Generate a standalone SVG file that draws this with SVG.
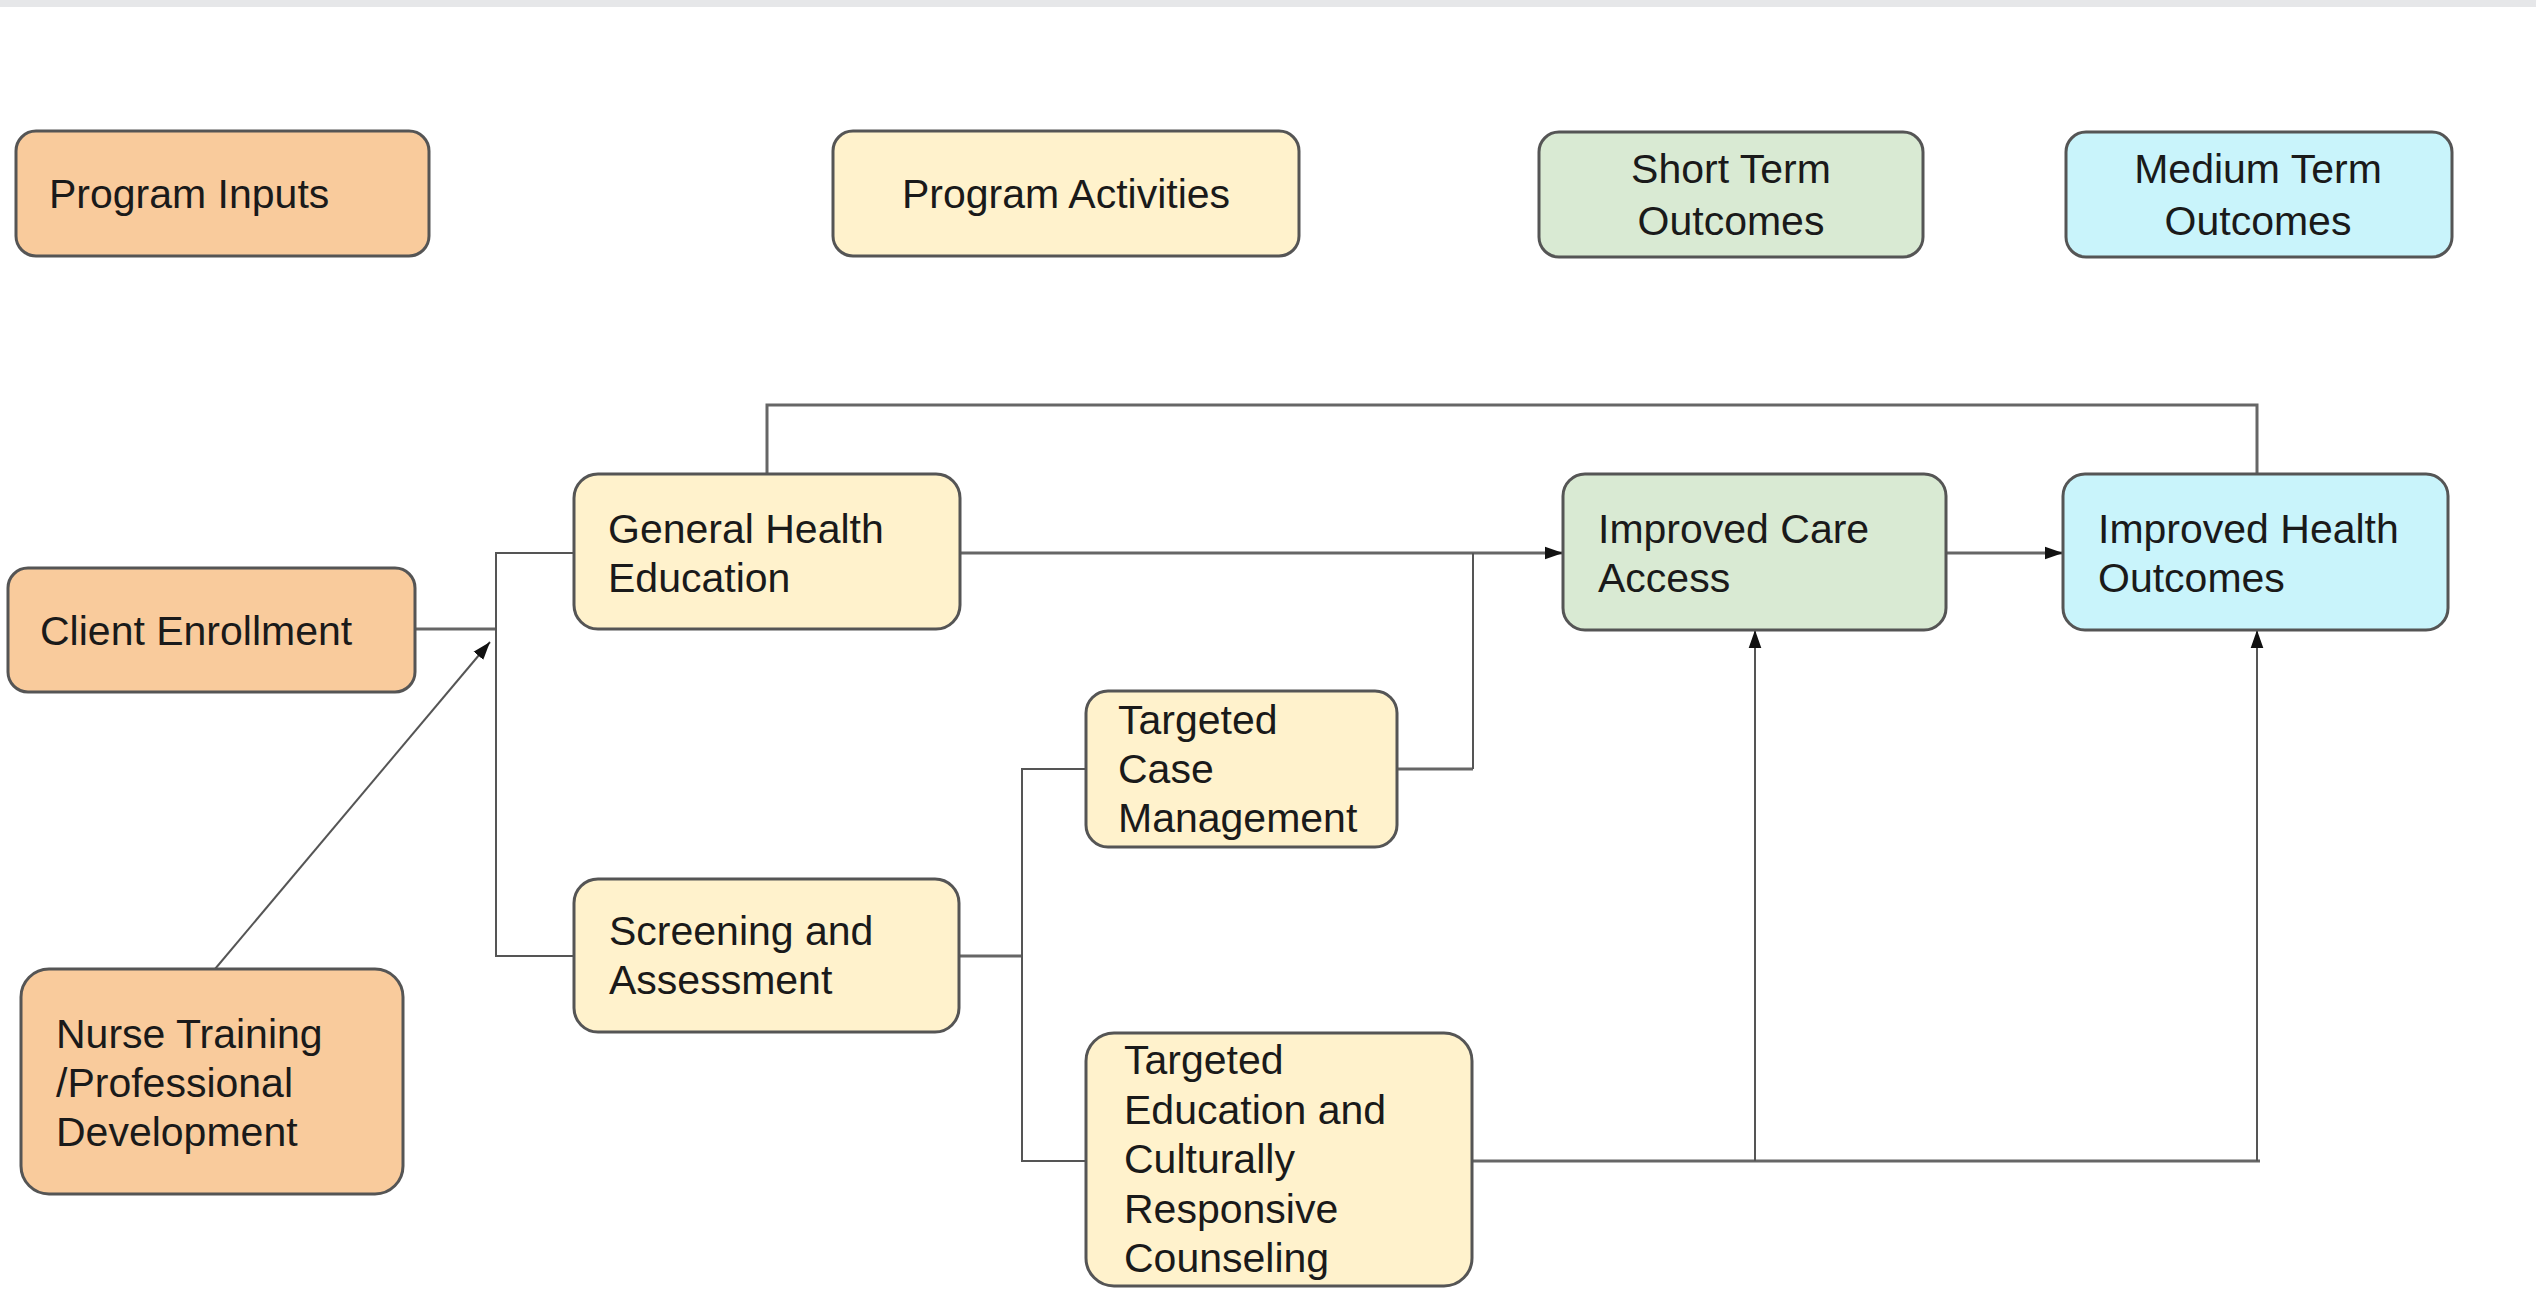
<svg xmlns="http://www.w3.org/2000/svg" width="2536" height="1296" viewBox="0 0 2536 1296">
<defs>
<style>
.box{stroke:#555;stroke-width:3}
.in{fill:#f9cb9c}
.act{fill:#fff2cc}
.st{fill:#d9ead3}
.mt{fill:#c9f4fb}
text{font-family:"Liberation Sans",Arial,sans-serif;font-size:41px;fill:#1a1a1a}
.c{text-anchor:middle}
.ln{fill:none;stroke:#666;stroke-width:3}
.thin{fill:none;stroke:#555;stroke-width:2}
</style>
<marker id="ah" viewBox="0 0 10 10" refX="10" refY="5" markerWidth="7" markerHeight="7" orient="auto" markerUnits="userSpaceOnUse">
<path d="M0,0 L10,5 L0,10 z" fill="#111"/>
</marker>
<marker id="ahs" viewBox="0 0 10 10" refX="10" refY="5" markerWidth="18" markerHeight="18" orient="auto" markerUnits="userSpaceOnUse">
<path d="M0,1.5 L10,5 L0,8.5 z" fill="#111"/>
</marker>
</defs>
<rect x="0" y="0" width="2536" height="1296" fill="#ffffff"/>
<rect x="0" y="0" width="2536" height="7" fill="#e6e7e9"/>

<g id="connectors">
<!-- top loop GHE to IHO -->
<polyline class="ln" points="767,474 767,405 2257,405 2257,474"/>
<!-- Client enrollment to junction -->
<polyline class="ln" points="415,629 496,629"/>
<polyline class="thin" points="574,553 496,553 496,956 574,956"/>
<!-- Nurse training diagonal -->
<line class="thin" x1="215" y1="969" x2="490" y2="642" marker-end="url(#ahs)"/>
<!-- GHE to ICA -->
<line class="ln" x1="960" y1="553" x2="1563" y2="553" marker-end="url(#ahs)"/>
<!-- ICA to IHO -->
<line class="ln" x1="1946" y1="553" x2="2063" y2="553" marker-end="url(#ahs)"/>
<!-- Screening to TCM / TEC -->
<line class="ln" x1="959" y1="956" x2="1022" y2="956"/>
<polyline class="thin" points="1086,769 1022,769 1022,1161 1086,1161"/>
<!-- TCM to junction -->
<polyline class="ln" points="1397,769 1473,769"/>
<line class="thin" x1="1473" y1="769" x2="1473" y2="553"/>
<!-- TEC to outcomes -->
<line class="ln" x1="1472" y1="1161" x2="2260" y2="1161"/>
<line class="thin" x1="1755" y1="1161" x2="1755" y2="630" marker-end="url(#ahs)"/>
<line class="thin" x1="2257" y1="1161" x2="2257" y2="630" marker-end="url(#ahs)"/>
</g>

<g id="program-inputs">
<rect class="box in" x="16" y="131" width="413" height="125" rx="20"/>
<text x="49" y="208">Program Inputs</text>
</g>
<g id="program-activities">
<rect class="box act" x="833" y="131" width="466" height="125" rx="20"/>
<text class="c" x="1066" y="208">Program Activities</text>
</g>
<g id="short-term-outcomes">
<rect class="box st" x="1539" y="132" width="384" height="125" rx="20"/>
<text class="c" x="1731" y="183">Short Term</text>
<text class="c" x="1731" y="235">Outcomes</text>
</g>
<g id="medium-term-outcomes">
<rect class="box mt" x="2066" y="132" width="386" height="125" rx="20"/>
<text class="c" x="2258" y="183">Medium Term</text>
<text class="c" x="2258" y="235">Outcomes</text>
</g>

<g id="client-enrollment">
<rect class="box in" x="8" y="568" width="407" height="124" rx="20"/>
<text x="40" y="645">Client Enrollment</text>
</g>
<g id="nurse-training">
<rect class="box in" x="21" y="969" width="382" height="225" rx="28"/>
<text x="56" y="1048">Nurse Training</text>
<text x="56" y="1097">/Professional</text>
<text x="56" y="1146">Development</text>
</g>
<g id="general-health-education">
<rect class="box act" x="574" y="474" width="386" height="155" rx="24"/>
<text x="608" y="543">General Health</text>
<text x="608" y="592">Education</text>
</g>
<g id="screening-assessment">
<rect class="box act" x="574" y="879" width="385" height="153" rx="24"/>
<text x="609" y="945">Screening and</text>
<text x="609" y="994">Assessment</text>
</g>
<g id="targeted-case-management">
<rect class="box act" x="1086" y="691" width="311" height="156" rx="22"/>
<text x="1118" y="734">Targeted</text>
<text x="1118" y="783">Case</text>
<text x="1118" y="832">Management</text>
</g>
<g id="targeted-education">
<rect class="box act" x="1086" y="1033" width="386" height="253" rx="28"/>
<text x="1124" y="1074">Targeted</text>
<text x="1124" y="1124">Education and</text>
<text x="1124" y="1173">Culturally</text>
<text x="1124" y="1223">Responsive</text>
<text x="1124" y="1272">Counseling</text>
</g>
<g id="improved-care-access">
<rect class="box st" x="1563" y="474" width="383" height="156" rx="22"/>
<text x="1598" y="543">Improved Care</text>
<text x="1598" y="592">Access</text>
</g>
<g id="improved-health-outcomes">
<rect class="box mt" x="2063" y="474" width="385" height="156" rx="22"/>
<text x="2098" y="543">Improved Health</text>
<text x="2098" y="592">Outcomes</text>
</g>
</svg>
